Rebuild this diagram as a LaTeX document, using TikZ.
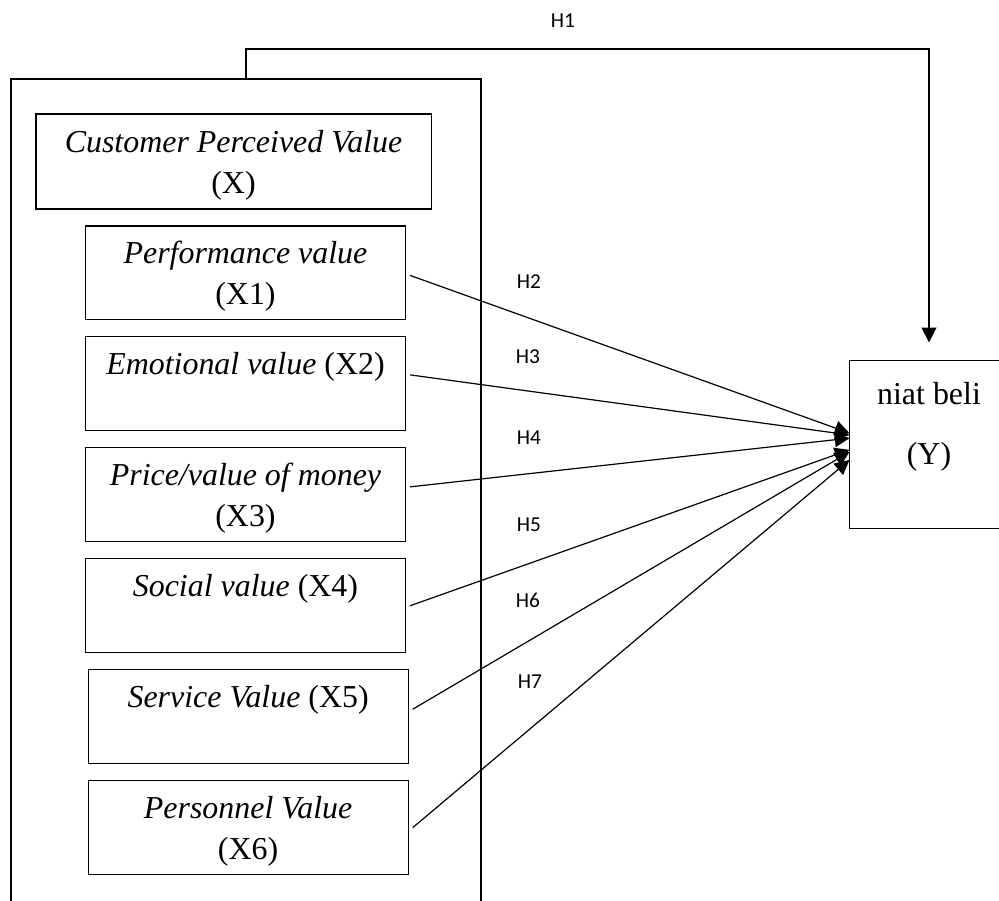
\documentclass[tikz,border=0pt]{standalone}
\usepackage{fontspec}
\setmainfont{Liberation Serif}
\newfontfamily\hypfont{Carlito}
\usetikzlibrary{positioning,arrows.meta}

\begin{document}
\begin{tikzpicture}[x=0.3759pt, y=-0.3759pt,
	plainbox/.style={draw, line width=0.4pt, inner sep=0pt, align=center, font=\fontsize{12}{15.5}\selectfont},
	varbox/.style={plainbox, minimum width=120.3pt, minimum height=35.3pt, text height=28.5pt, text depth=4.65pt},
	hyp/.style={inner sep=0pt, font=\hypfont\fontsize{8}{9.6}\selectfont},
	path arrow/.style={-{Triangle[length=5.5pt, width=5.5pt]}, line width=0.45pt},
	node distance=6pt]
	\path[use as bounding box, clip] (0,0) rectangle (999,900);
	
	\node[draw, line width=0.8pt, minimum width=176.9pt, minimum height=316.5pt, anchor=north west] (frame) at (9.5,78) {};
	\node[varbox, minimum width=148.5pt, minimum height=35.7pt] (cpv) at (233.5,161.5) {\textit{Customer Perceived Value}\\(X)};
	\node[varbox, below=of cpv, xshift=4.5pt] (x1) {\textit{Performance value}\\(X1)};
	\node[varbox, below=of x1] (x2) {\textit{Emotional value} (X2)\\\strut};
	\node[varbox, below=of x2] (x3) {\textit{Price/value of money}\\(X3)};
	\node[varbox, below=of x3] (x4) {\textit{Social value} (X4)\\\strut};
	\node[varbox, below=of x4, xshift=1pt] (x5) {\textit{Service Value} (X5)\\\strut};
	\node[varbox, below=of x5] (x6) {\textit{Personnel Value}\\(X6)};
	\node[plainbox, draw=none, minimum width=59.4pt, minimum height=62.8pt] (Y) at (929,444.5) {niat beli\\[7pt](Y)\\[-4.3pt]\strut};
	\draw[line width=0.4pt] (Y.north east) -- (Y.north west) -- (Y.south west) -- (Y.south east);
	
	\draw[path arrow, line width=0.55pt, shorten >=6.8pt] (frame.north) -- ++(0,-29) -| (Y.north);
	\foreach \src/\sy/\ty in {x1/-0.9/4.3, x2/3.4/3.6, x3/3/2.4, x4/0/-2, x5/2.8/-2.8, x6/0/-5.8}
		\draw[path arrow] ([xshift=1.5pt, yshift=\sy pt]\src.east) -- ([yshift=\ty pt]Y.west);
	
	\node[hyp] (h1) at (563,21) {H1};
	\node[hyp] (h2) at (529,282) {H2};
	\node[hyp] (h3) at (528,357) {H3};
	\node[hyp] (h4) at (529,438) {H4};
	\node[hyp] (h5) at (529,525) {H5};
	\node[hyp] (h6) at (528,600) {H6};
	\node[hyp] (h7) at (530,682) {H7};
\end{tikzpicture}
\end{document}
